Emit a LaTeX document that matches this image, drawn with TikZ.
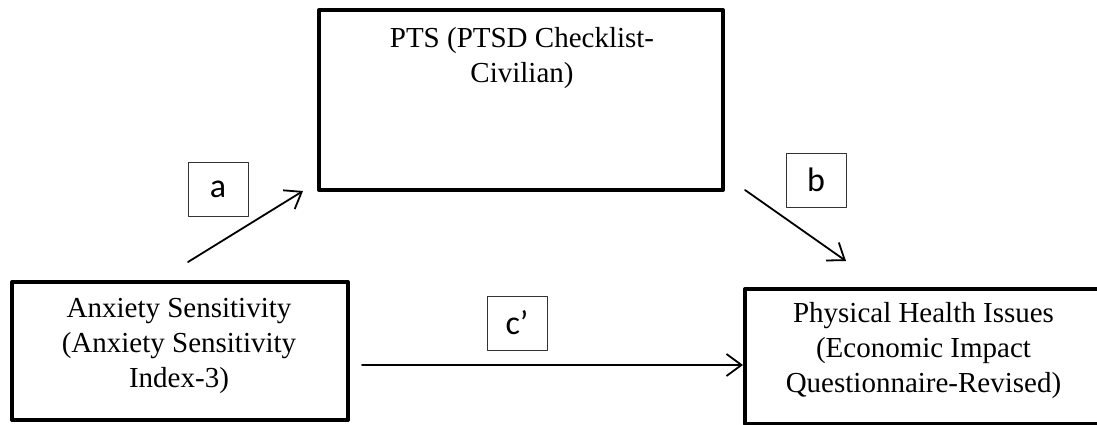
\documentclass[tikz,border=0pt]{standalone}
\usepackage{fontspec}
\setmainfont{Liberation Serif}
\newfontfamily\labelfont{Carlito}
\usetikzlibrary{arrows.meta,positioning,calc}

\begin{document}
\begin{tikzpicture}[x=1pt, y=-1pt, >={Straight Barb[length=15pt,width=22pt]},
  line cap=round, line join=round,
  varbox/.style={draw, line width=4pt, inner sep=0pt},
  vartext/.style={inner sep=0pt, align=center, font=\fontsize{29}{35}\selectfont},
  pathbox/.style={draw=black!80, line width=1pt, minimum width=60pt,
    minimum height=54pt, inner sep=0pt, font=\labelfont\fontsize{34}{36}\selectfont},
  pathline/.style={->, line width=1.8pt}]

% ----------------------------
% CANVAS (pixel units, y down)
% ----------------------------
\useasboundingbox (0,0) rectangle (1097,425);
\clip (0,0) rectangle (1097,425);

% ----------------------------
% VARIABLE BOXES
% ----------------------------
\node[varbox, minimum width=404pt, minimum height=180pt] (pts) at (521,100) {};
\node[vartext] (ptstext) at (522,58) {PTS (PTSD Checklist-\\Civilian)};

\node[varbox, minimum width=336pt, minimum height=138pt] (anx) at (180,351) {};
\node[vartext] (anxtext) at (179,346)
  {Anxiety Sensitivity\\(Anxiety Sensitivity\\Index-3)};

\node[varbox, minimum width=355pt, minimum height=135pt] (phys) at (922.5,356.5) {};
\node[vartext] (phystext) at (923.5,351)
  {Physical Health Issues\\(Economic Impact\\Questionnaire-Revised)};

% ----------------------------
% PATH LABELS
% ----------------------------
\node[pathbox] (la) at (218,189) {a};
\node[pathbox] (lb) at (816,180) {b};
\node[pathbox] (lc) at (517,323) {c’};

% ----------------------------
% ARROW END POINTS
% ----------------------------
\coordinate (aS) at (188,262);
\coordinate (aE) at (303,191);
\coordinate (bS) at (745,190);
\coordinate (bE) at (846,261);
\coordinate (cS) at (362,365);
\coordinate (cE) at (phys.west |- cS);

% ----------------------------
% PATHS
% ----------------------------
\draw[pathline] (aS) -- (aE);   % a: anx -> pts
\draw[pathline] (bS) -- (bE);   % b: pts -> phys
\draw[pathline] (cS) -- (cE);   % c': anx -> phys

\end{tikzpicture}
\end{document}
